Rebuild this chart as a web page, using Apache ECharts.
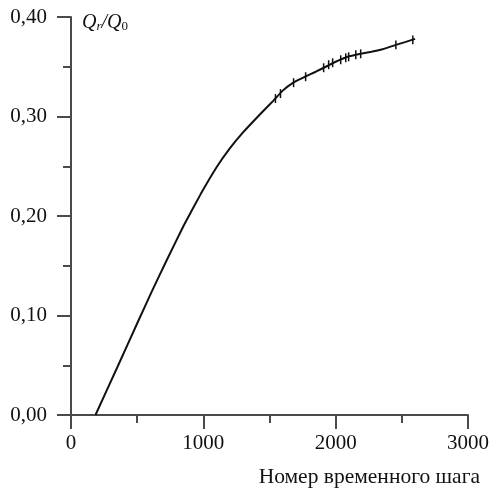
<!DOCTYPE html>
<html>
<head>
<meta charset="utf-8">
<script src="https://cdn.jsdelivr.net/npm/echarts@6/dist/echarts.min.js"></script>
<style>
  html, body { margin: 0; padding: 0; background: #fff; }
  #chart { width: 489px; height: 490px; }
</style>
</head>
<body>
<div id="chart"></div>
<script>
// curve Q_r/Q_0 vs time step
const steps = [185, 350, 510, 610, 725, 850, 980, 1100, 1200, 1300, 1420, 1530, 1600, 1680, 1770, 1850, 1940, 2000, 2090, 2190, 2270, 2340, 2455, 2530, 2600]
const ratio = [0, 0.048, 0.095, 0.124, 0.156, 0.190, 0.222, 0.249, 0.268, 0.284, 0.301, 0.316, 0.326, 0.334, 0.340, 0.345, 0.351, 0.355, 0.360, 0.363, 0.365, 0.367, 0.372, 0.375, 0.378]

// small vertical error marks along the upper part of the curve
const errSteps = [1545, 1583, 1682, 1773, 1909, 1947, 1977, 2038, 2076, 2098, 2152, 2189, 2455, 2583]
const errValues = [0.318, 0.323, 0.334, 0.340, 0.349, 0.352, 0.354, 0.357, 0.359, 0.360, 0.362, 0.363, 0.372, 0.377]
const errHalf = 0.0045

const xTicks = [0, 1000, 2000, 3000]
const yTicks = [0, 0.1, 0.2, 0.3, 0.4]

const serif = '"Liberation Serif", "DejaVu Serif", serif'
const axisColor = '#4a4a4a'

const chart = echarts.init(document.getElementById('chart'))

const option = {
  animation: false,
  backgroundColor: '#fff',
  grid: {
    left: 71,
    right: 21,
    top: 17,
    bottom: 75,
    containLabel: false,
    outerBoundsMode: 'none'
  },
  xAxis: {
    type: 'value',
    min: xTicks[0],
    max: xTicks[xTicks.length - 1],
    interval: 1000,
    name: 'Номер временного шага',
    nameLocation: 'end',
    nameGap: 12,
    nameTextStyle: {
      fontFamily: serif,
      fontSize: 21.5,
      color: '#111',
      align: 'right',
      verticalAlign: 'top',
      padding: [51, 0, 0, 0]
    },
    axisLine: { show: true, onZero: false, lineStyle: { color: axisColor, width: 2 } },
    axisTick: { show: true, inside: false, length: 14, lineStyle: { color: axisColor, width: 2 } },
    minorTick: { show: true, splitNumber: 2, length: 8, lineStyle: { color: axisColor, width: 2 } },
    axisLabel: {
      margin: 18,
      fontFamily: serif,
      fontSize: 21,
      color: '#111',
      formatter: v => String(v)
    },
    splitLine: { show: false }
  },
  yAxis: {
    type: 'value',
    min: yTicks[0],
    max: yTicks[yTicks.length - 1],
    interval: 0.1,
    name: '{q|Q}{sr|r}{sl|/}{q|Q}{s0|0}',
    nameLocation: 'end',
    nameGap: -6,
    nameTextStyle: {
      align: 'left',
      verticalAlign: 'middle',
      padding: [0, 0, 0, 11],
      rich: {
        q: { fontFamily: serif, fontStyle: 'italic', fontSize: 20, color: '#111' },
        sr: { fontFamily: serif, fontStyle: 'italic', fontSize: 13, color: '#111', verticalAlign: 'bottom', padding: [6, 0, 0, 0] },
        sl: { fontFamily: serif, fontStyle: 'italic', fontSize: 20, color: '#111' },
        s0: { fontFamily: serif, fontSize: 13, color: '#111', verticalAlign: 'bottom', padding: [6, 0, 0, 0] }
      }
    },
    axisLine: { show: true, onZero: false, lineStyle: { color: axisColor, width: 2 } },
    axisTick: { show: true, inside: false, length: 14, lineStyle: { color: axisColor, width: 2 } },
    minorTick: { show: true, splitNumber: 2, length: 8, lineStyle: { color: axisColor, width: 2 } },
    axisLabel: {
      margin: 24,
      fontFamily: serif,
      fontSize: 21,
      color: '#111',
      formatter: v => v.toFixed(2).replace('.', ',')
    },
    splitLine: { show: false }
  },
  series: [
    {
      type: 'line',
      data: steps.map((s, i) => [s, ratio[i]]),
      showSymbol: false,
      smooth: 0.1,
      lineStyle: { color: '#111', width: 2 },
      z: 3
    },
    {
      type: 'custom',
      data: errSteps.map((s, i) => [s, errValues[i]]),
      renderItem: (params, api) => {
        const x = api.value(0)
        const y = api.value(1)
        const p1 = api.coord([x, y - errHalf])
        const p2 = api.coord([x, y + errHalf])
        return {
          type: 'line',
          shape: { x1: p1[0], y1: p1[1], x2: p2[0], y2: p2[1] },
          style: { stroke: '#111', lineWidth: 1.5 }
        }
      },
      z: 4
    }
  ]
}

chart.setOption(option)
</script>
</body>
</html>
